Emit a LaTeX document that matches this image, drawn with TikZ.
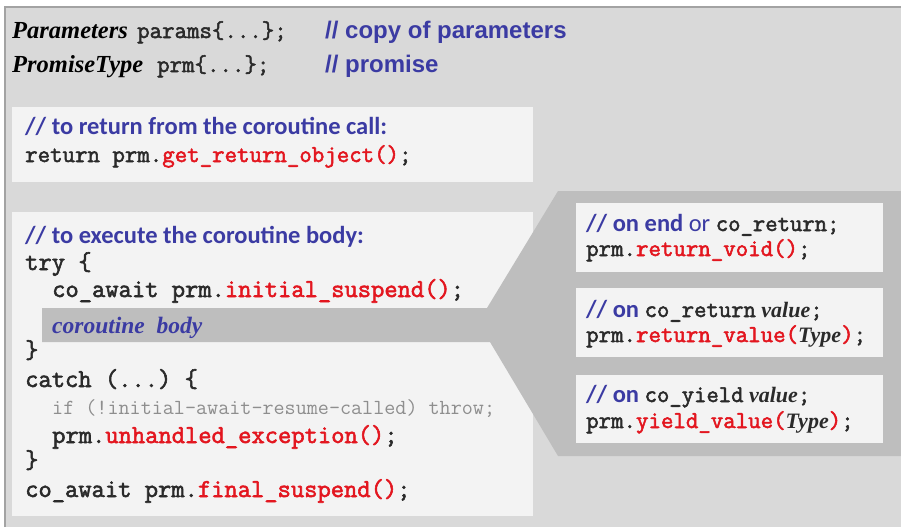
\documentclass[tikz,border=0pt]{standalone}
\usepackage{xcolor}
\usepackage{fontspec}
\setmainfont{Liberation Serif}
\setmonofont{Latin Modern Mono}[BoldFont={Latin Modern Mono}, BoldFeatures={FakeBold=2.2}]
\newfontfamily\notefont{Carlito}
\newfontfamily\headfont{Liberation Sans}
\usepackage{tikz}
\usetikzlibrary{positioning}

\definecolor{panelgray}{HTML}{D9D9D9}
\definecolor{boxwhite}{HTML}{F3F3F3}
\definecolor{shadegray}{HTML}{BEBEBE}
\definecolor{edgegray}{HTML}{A3A3A3}
\definecolor{noteblue}{HTML}{3B3BA3}
\definecolor{callred}{HTML}{E3161F}
\definecolor{codeink}{HTML}{2A2A2A}
\definecolor{dimink}{HTML}{8E8E8E}

\newcommand{\call}[1]{\textcolor{callred}{#1}}
\newcommand{\slant}[1]{{\fontsize{22}{24}\selectfont\rmfamily\bfseries\itshape\color{codeink}#1}}
\newcommand{\kwd}[1]{{\fontsize{24}{26}\selectfont\ttfamily\bfseries\color{codeink}#1}}

\begin{document}
\begin{tikzpicture}[
    x=1pt, y=-1pt,
    codeline/.style={anchor=base west, inner sep=0pt, text=codeink, font=\fontsize{24.2}{26}\selectfont\ttfamily\bfseries},
    bodyline/.style={codeline, font=\fontsize{25.8}{27}\selectfont\ttfamily\bfseries},
    dimline/.style={anchor=base west, inner sep=0pt, text=dimink, font=\fontsize{21.5}{22}\selectfont\ttfamily},
    note/.style={anchor=base west, inner sep=0pt, text=noteblue, font=\fontsize{24.5}{26}\selectfont\notefont\bfseries},
    headnote/.style={anchor=base west, inner sep=0pt, text=noteblue, font=\fontsize{24}{26}\selectfont\headfont\bfseries},
    decl/.style={anchor=base west, inner sep=0pt, text=black, font=\fontsize{24.5}{26}\selectfont\rmfamily\bfseries\itshape},
    hookbox/.style={fill=boxwhite}
]
    \useasboundingbox (0,0) rectangle (901,527);

    % panel and frames
    \fill[panelgray] (5,7) rectangle (901,527);
    \draw[edgegray, line width=1.5pt] (5,527) -- (5,7) -- (901,7);
    \fill[boxwhite] (12,107) rectangle (533,182);
    \fill[boxwhite] (12,212) rectangle (533,516);
    \fill[shadegray] (42,308) -- (487,308) -- (558,191) -- (901,191)
        -- (901,456) -- (558,456) -- (490,342) -- (42,342) -- cycle;
    \fill[hookbox] (576,203) rectangle (883,272);
    \fill[hookbox] (576,288) rectangle (883,357);
    \fill[hookbox] (576,375) rectangle (883,443);

    % declarations
    \node[decl] (paramtype) at (12,38) {Parameters};
    \node[codeline] (paramvar) at (137,38) {params\{...\};};
    \node[headnote] (paramnote) at (325,38) {// copy of parameters};
    \node[decl] (promtype) at (12,72) {PromiseType};
    \node[codeline] (promvar) at (157,72) {prm\{...\};};
    \node[headnote] (promnote) at (325,72) {// promise};

    % return object
    \node[note] (retnote) at (25,134) {// to return from the coroutine call:};
    \node[codeline] (retcall) at (25,162) {return prm.\call{get\_return\_object()};};

    % coroutine body
    \node[note] (bodynote) at (25,243) {// to execute the coroutine body:};
    \node[bodyline] (trykw) at (25,270) {try \{};
    \node[bodyline] (initcall) at (52,297) {co\_await prm.\call{initial\_suspend()};};
    \node[decl, text=noteblue, font=\fontsize{23.5}{26}\selectfont\rmfamily\bfseries\itshape] (bodytext) at (52,333) {coroutine\ \ body};
    \node[bodyline] (tryend) at (25,358) {\}};
    \node[bodyline] (catchkw) at (25,387) {catch (...) \{};
    \node[dimline] (rethrow) at (52,414) {if (!initial-await-resume-called) throw;};
    \node[bodyline] (excall) at (52,443) {prm.\call{unhandled\_exception()};};
    \node[bodyline] (catchend) at (25,468) {\}};
    \node[bodyline] (finalcall) at (25,497) {co\_await prm.\call{final\_suspend()};};

    % promise hooks
    \node[note] (voidnote) at (586,231) {// on end {\mdseries or} \kwd{co\_return;}};
    \node[codeline] (voidcall) at (586,256) {prm.\call{return\_void()};};
    \node[note] (valnote) at (586,317) {// on \kwd{co\_return} \slant{value}\kwd{;}};
    \node[codeline] (valcall) at (586,342) {prm.\call{return\_value(\slant{Type})};};
    \node[note] (yieldnote) at (586,402) {// on \kwd{co\_yield} \slant{value}\kwd{;}};
    \node[codeline] (yieldcall) at (586,428) {prm.\call{yield\_value(\slant{Type})};};
\end{tikzpicture}
\end{document}
